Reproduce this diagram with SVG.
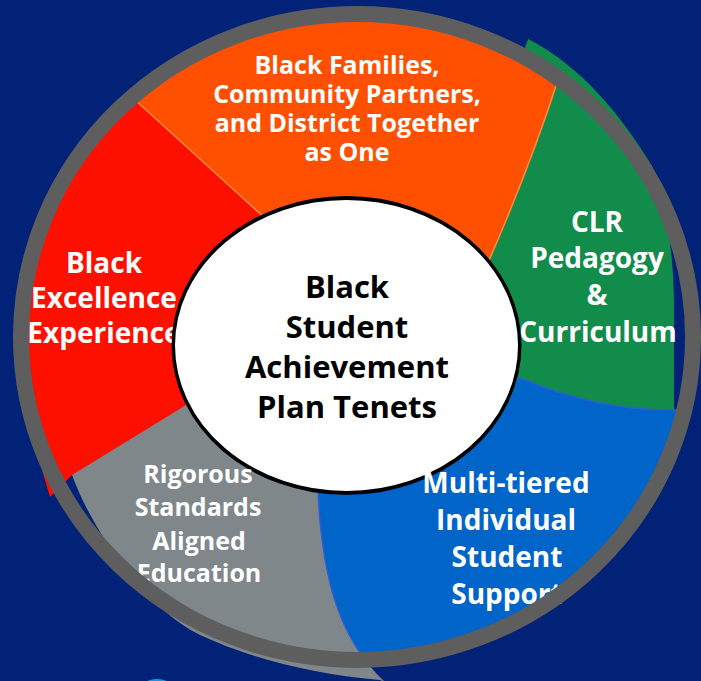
<svg xmlns="http://www.w3.org/2000/svg" width="701" height="681" viewBox="0 0 701 681">
  <style>
    .lbl { font-family: "Open Sans", "Liberation Sans", sans-serif; font-weight: 700; fill: #ffffff; text-anchor: middle; }
    .s25 { font-size: 25px; }
    .s28 { font-size: 28px; }
    .hubtxt { font-family: "Open Sans", "Liberation Sans", sans-serif; font-weight: 700; font-size: 31px; fill: #000000; text-anchor: middle; }
    .ring { fill: none; stroke: #5e5e5e; stroke-width: 16; }
  </style>
  <defs>
    <clipPath id="ringIn" clipPathUnits="userSpaceOnUse">
      <ellipse cx="357" cy="337" rx="336" ry="323"/>
    </clipPath>
    <clipPath id="hubHole" clipPathUnits="userSpaceOnUse">
      <path clip-rule="evenodd" d="M-10,-10H711V691H-10Z M171.5,345.5 a175,149.5 0 1,0 350,0 a175,149.5 0 1,0 -350,0 Z"/>
    </clipPath>
  </defs>

  <rect width="701" height="681" fill="#012277"/>

  <g id="hub">
    <ellipse cx="346.5" cy="345.5" rx="173.5" ry="147.5" fill="#ffffff" stroke="#000000" stroke-width="4"/>
    <text class="hubtxt" x="347" y="298">Black</text>
    <text class="hubtxt" x="347" y="338">Student</text>
    <text class="hubtxt" x="347" y="378">Achievement</text>
    <text class="hubtxt" x="347" y="418">Plan Tenets</text>
  </g>

  <g id="tenet-black-excellence" clip-path="url(#hubHole)">
    <path fill="#fe1000" d="M300,240 L140,90 A336,323 0 0 0 32,420 L40,463 L50,497 L72,475 L120,455 L260,380 Z"/>
    <text class="lbl s28" x="104" y="273">Black</text>
    <text class="lbl s28" x="104" y="308">Excellence</text>
    <text class="lbl s28" x="104" y="343">Experience</text>
  </g>

  <g id="tenet-clr">
    <path fill="#128c4b" clip-path="url(#hubHole)" d="M430,330 L528,39 C581,66 620,114 652,166 C666,200 673,250 674,300 L674,420 L600,425 L450,400 Z"/>
    <text class="lbl s28" x="597" y="232">CLR</text>
    <text class="lbl s28" x="597" y="268">Pedagogy</text>
    <text class="lbl s28" x="597" y="305">&amp;</text>
    <text class="lbl s28" x="598" y="342">Curriculum</text>
  </g>

  <g id="tenet-rigorous">
    <path fill="#7f878b" clip-path="url(#hubHole)" d="M320,440 L240,372 L72,475 C92,530 145,608 200,635 C250,658 310,674 380,680 L385,682 C340,640 322,580 318,490 Z"/>
    <text class="lbl s25" x="198" y="483" fill="#f2f2f2">Rigorous</text>
    <text class="lbl s25" x="198" y="516">Standards</text>
    <text class="lbl s25" x="199" y="550">Aligned</text>
    <text class="lbl s25" x="199" y="582">Education</text>
  </g>

  <g id="tenet-multi-tiered">
    <g clip-path="url(#hubHole)">
      <path fill="#0064c8" stroke="#2a5fd4" stroke-width="1.5" clip-path="url(#ringIn)" d="M450,380 L320,440 L318,490 C322,580 340,640 385,682 L392,700 L710,700 L710,412 L678,410 Q601,412 520,378 Z"/>
    </g>
    <text class="lbl s28" x="506" y="493">Multi-tiered</text>
    <text class="lbl s28" x="506" y="530">Individual</text>
    <text class="lbl s28" x="507" y="567">Student</text>
    <text class="lbl s28" x="507" y="604">Support</text>
  </g>

  <g id="tenet-families">
    <g clip-path="url(#hubHole)">
      <path fill="#fe5000" stroke="#f78a3c" stroke-width="1.6" clip-path="url(#ringIn)" d="M300,250 L100,68 L100,0 L575,0 L558,80 Q529,169 490,258 L470,310 Z"/>
    </g>
    <text class="lbl s25" x="347" y="74">Black Families,</text>
    <text class="lbl s25" x="347" y="103">Community Partners,</text>
    <text class="lbl s25" x="347" y="132">and District Together</text>
    <text class="lbl s25" x="347" y="161">as One</text>
  </g>

  <g id="connectors"></g>

  <g id="frame">
    <ellipse class="ring" cx="357" cy="337" rx="336" ry="323"/>
    <ellipse cx="157" cy="696" rx="20" ry="17" fill="#1496d8"/>
  </g>
</svg>
